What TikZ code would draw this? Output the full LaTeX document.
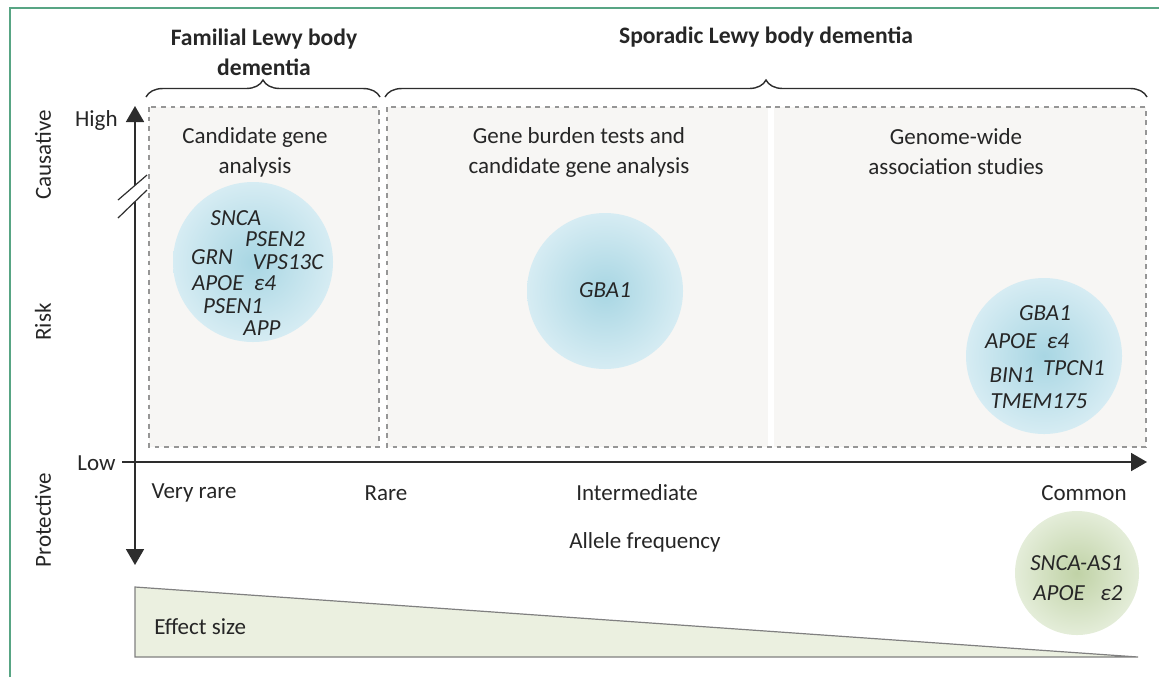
\documentclass[tikz,border=0pt]{standalone}
\usepackage{fontspec}
\setmainfont{Carlito}
\usetikzlibrary{arrows.meta,decorations.pathreplacing}

\definecolor{framegreen}{RGB}{88,165,132}
\definecolor{boxgrey}{RGB}{247,246,244}
\definecolor{dashgrey}{RGB}{150,150,150}
\definecolor{axisgrey}{RGB}{45,45,45}
\definecolor{textgrey}{RGB}{38,38,38}
\definecolor{bluein}{RGB}{168,214,227}
\definecolor{blueout}{RGB}{214,236,243}
\definecolor{greenin}{RGB}{192,210,166}
\definecolor{greenout}{RGB}{228,237,217}
\definecolor{effectfill}{RGB}{235,240,224}

\tikzset{
  lbl/.style={font=\fontsize{11.5}{15}\selectfont, text=textgrey, inner sep=0pt, align=center},
  head/.style={lbl, font=\fontsize{11.8}{15}\selectfont\bfseries},
  gene/.style={lbl, font=\fontsize{11.5}{13}\selectfont\itshape},
  axislbl/.style={lbl, rotate=90},
  studybox/.style={draw=dashgrey, dash pattern=on 2.4pt off 2.4pt, line width=0.6pt},
  axisline/.style={draw=axisgrey, line width=0.9pt},
  bracket/.style={draw=axisgrey, line width=0.7pt, decorate, decoration={brace, amplitude=8.5pt}},
  tip/.tip={Triangle[length=8pt, width=9pt]},
}

\begin{document}
\begin{tikzpicture}[x=0.5pt, y=-0.5pt]
  \useasboundingbox (0,0) rectangle (1159,677);
  % frame
  \draw[framegreen, line width=1.2pt] (10,677) -- (10,8) -- (1159,8);

  % study boxes
  \fill[boxgrey] (149,107) rectangle (379,447);
  \fill[boxgrey] (387,107) rectangle (768,447);
  \fill[boxgrey] (774,107) rectangle (1146,447);
  \draw[studybox] (149,107) rectangle (379,447);
  \draw[studybox] (387,107) rectangle (1146,447);

  % braces and headings
  \draw[bracket] (146,97) -- (380,97);
  \draw[bracket] (385,97) -- (1147,97);
  \node[head] (familial) at (264,52) {Familial Lewy body\\dementia};
  \node[head] (sporadic) at (766,37) {Sporadic Lewy body dementia};

  \node[lbl] (candidate) at (255,152) {Candidate gene\\analysis};
  \node[lbl] (burden) at (579,152) {Gene burden tests and\\candidate gene analysis};
  \node[lbl] (gwas) at (956,152) {Genome-wide\\association studies};

  % gene clouds
  \shade[inner color=bluein, outer color=blueout] (253,262) circle (80);
  \shade[inner color=bluein, outer color=blueout] (605,291) circle (78);
  \shade[inner color=bluein, outer color=blueout] (1044,356) circle (78);
  \shade[inner color=greenin, outer color=greenout] (1077,573) circle (62);

  \node[gene] (snca) at (236,218) {SNCA};
  \node[gene] (psen2) at (275,239) {PSEN2};
  \node[gene] (grn) at (212,257) {GRN};
  \node[gene] (vps13c) at (288,262) {VPS13C};
  \node[gene] (apoe4a) at (234,283) {APOE~~ε4};
  \node[gene] (psen1) at (233,306) {PSEN1};
  \node[gene] (app) at (262,328) {APP};

  \node[gene] (gba1a) at (605,290) {GBA1};

  \node[gene] (gba1b) at (1045,313) {GBA1};
  \node[gene] (apoe4b) at (1027,341) {APOE~~ε4};
  \node[gene] (tpcn1) at (1074,368) {TPCN1};
  \node[gene] (bin1) at (1012,375) {BIN1};
  \node[gene] (tmem175) at (1039,401) {TMEM175};

  \node[gene, anchor=east] (sncaas1) at (1123,563) {SNCA-AS1};
  \node[gene, anchor=east] (apoe2) at (1123,593) {APOE~~~ε2};

  % axes
  \coordinate (ytop) at (135,106);
  \coordinate (ybot) at (135,565);
  \coordinate (xleft) at (122,462);
  \coordinate (xright) at (1147,462);
  \draw[axisline, tip-tip] (ytop) -- (ybot);
  \draw[axisline, -tip] (xleft) -- (xright);
  % axis break
  \fill[white] (118,200) -- (147,175) -- (147,190) -- (118,218) -- cycle;
  \draw[axisgrey, line width=0.6pt] (118,200) -- (147,175);
  \draw[axisgrey, line width=0.6pt] (118,218) -- (147,190);

  \node[lbl, anchor=east] (high) at (118,120) {High};
  \node[lbl, anchor=east] (low) at (116,463) {Low};
  \node[axislbl] (causative) at (43,155) {Causative};
  \node[axislbl] (risk) at (43,322) {Risk};
  \node[axislbl] (protective) at (43,520) {Protective};

  \node[lbl] (veryrare) at (194,493) {Very rare};
  \node[lbl] (rare) at (386,493) {Rare};
  \node[lbl] (intermediate) at (637,493) {Intermediate};
  \node[lbl] (common) at (1084,493) {Common};
  \node[lbl] (allele) at (645,542) {Allele frequency};

  % effect size wedge
  \draw[draw=gray, fill=effectfill, line width=0.6pt] (135,587) -- (1138,657) -- (135,657) -- cycle;
  \node[lbl, anchor=west] (effect) at (154,627) {Effect size};
\end{tikzpicture}
\end{document}
